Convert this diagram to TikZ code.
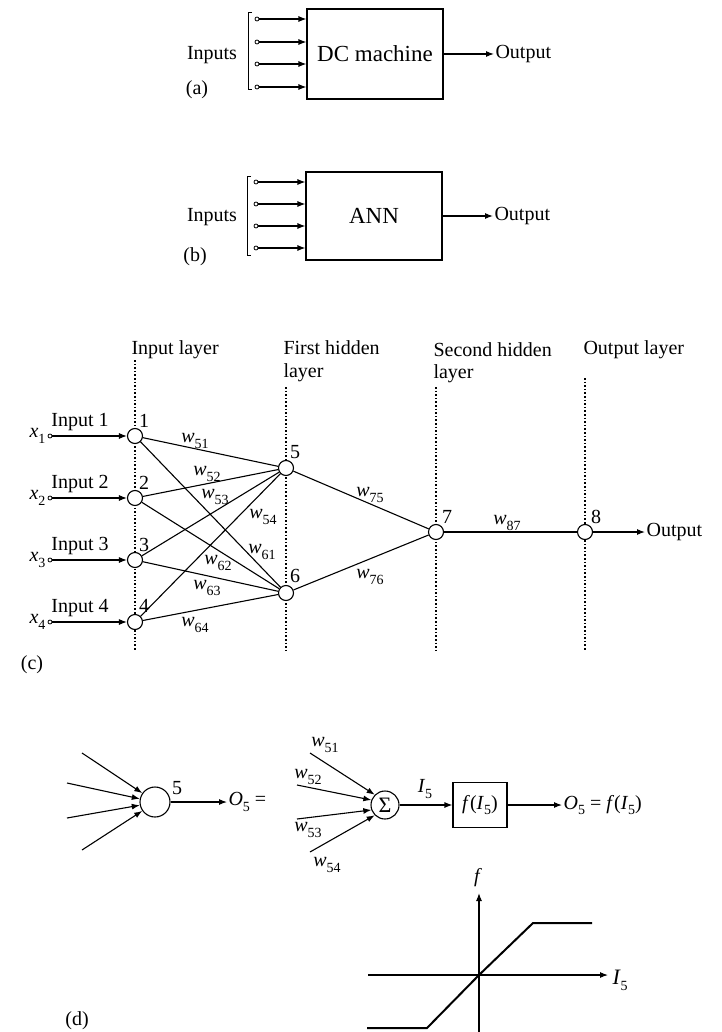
\documentclass[tikz,border=0pt]{standalone}
\usepackage{fontspec}
\setmainfont{Liberation Serif}
\usetikzlibrary{arrows.meta}
\newcommand{\sbs}[1]{\raisebox{-0.28em}{\fontsize{14}{14}\selectfont #1}}
\newcommand{\wgt}[1]{\textit{w}\sbs{#1}}
\begin{document}
\begin{tikzpicture}[x=1pt,y=-1pt,line width=1.1pt,
  every node/.style={font=\fontsize{20}{24}\selectfont,inner sep=1pt},
  arr/.style={-{Latex[length=8pt,width=6pt]}},
  neuron/.style={circle,draw,fill=white,minimum size=15pt,inner sep=0pt},
  term/.style={circle,draw,fill=white,minimum size=4pt,inner sep=0pt,line width=0.8pt},
  blk/.style={draw,rectangle,inner sep=0pt},
  bigtxt/.style={font=\fontsize{23}{26}\selectfont},
  layerline/.style={line width=1.6pt,dash pattern=on 1.6pt off 2pt},
  bracket/.style={line width=1pt}]
\useasboundingbox (0,0) rectangle (721,1032);

% ---------- (a)
\node[blk,bigtxt,minimum width=136pt,minimum height=90pt] (dc) at (375,54) {DC machine};
\draw[bracket] (252,13) -- (248,13) -- (248,90) -- (252,90);
\foreach \i/\y in {1/19,2/42,3/64,4/87}{
  \node[term] (a\i) at (257,\y) {};
  \draw[arr] (a\i) -- (a\i -| dc.west);
}
\node (ina) at (212,55) {Inputs};
\node (la) at (197,90) {(a)};
\node[anchor=west] (outa) at (494,54) {Output};
\draw[arr] (dc.east) -- (outa.west);

% ---------- (b)
\node[blk,bigtxt,minimum width=136pt,minimum height=88pt] (ann) at (374,216) {ANN};
\draw[bracket] (251,177) -- (247,177) -- (247,255) -- (251,255);
\foreach \i/\y in {1/182,2/204,3/226,4/248}{
  \node[term] (b\i) at (256,\y) {};
  \draw[arr] (b\i) -- (b\i -| ann.west);
}
\node (inb) at (212,217) {Inputs};
\node (lb) at (195,257) {(b)};
\node[anchor=west] (outb) at (493,216) {Output};
\draw[arr] (ann.east) -- (outb.west);

% ---------- (c)
\draw[layerline] (135,360) -- (135,650);
\draw[layerline] (286,387) -- (286,650);
\draw[layerline] (436,387) -- (436,650);
\draw[layerline] (585,378) -- (585,650);
\node[anchor=base west] (h1) at (130,354) {Input layer};
\node[anchor=base west] (h2a) at (282,354) {First hidden};
\node[anchor=base west] (h2b) at (282,377) {layer};
\node[anchor=base west] (h3a) at (432,356) {Second hidden};
\node[anchor=base west] (h3b) at (432,378) {layer};
\node[anchor=base west] (h4) at (582,354) {Output layer};

\node[neuron] (n5) at (286,468) {};
\node[neuron] (n6) at (286,593) {};
\node[neuron] (n7) at (436,532) {};
\node[neuron] (n8) at (585,532) {};
\node[neuron] (n1) at (135,436) {};
\node[neuron] (n2) at (135,498) {};
\node[neuron] (n3) at (135,560) {};
\node[neuron] (n4) at (135,622) {};
\node (l1) at (144,421) {1};
\node (l2) at (144,483) {2};
\node (l3) at (144,545) {3};
\node (l4) at (144,606) {4};
\node (l5) at (295,452) {5};
\node (l6) at (295,576) {6};
\node (l7) at (447,517) {7};
\node (l8) at (596,517) {8};

\foreach \i in {1,2,3,4}{
  \node[term] (x\i) at (50,{374+62*\i}) {};
  \node[anchor=east] (xl\i) at (47,{374+62*\i}) {\textit{x}\sbs{\i}};
  \node (il\i) at (80,{360+62*\i}) {Input \i};
  \draw[arr] (x\i) -- (n\i);
}
\foreach \i in {1,2,3,4}{
  \draw (n\i) -- (n5);
  \draw (n\i) -- (n6);
}
\draw (n5) -- (n7);
\draw (n6) -- (n7);
\draw (n7) -- (n8);
\node[anchor=west] (outc) at (645,532) {Output};
\draw[arr] (n8) -- (outc.west);

\node (w51) at (195,441) {\wgt{51}};
\node (w52) at (207,474) {\wgt{52}};
\node (w53) at (215,497) {\wgt{53}};
\node (w54) at (263,517) {\wgt{54}};
\node (w61) at (262,552) {\wgt{61}};
\node (w62) at (218,563) {\wgt{62}};
\node (w63) at (207,588) {\wgt{63}};
\node (w64) at (195,625) {\wgt{64}};
\node (w75) at (370,495) {\wgt{75}};
\node (w76) at (370,577) {\wgt{76}};
\node (w87) at (507,523) {\wgt{87}};
\node (lc) at (32,665) {(c)};

% ---------- (d)
\node[circle,draw,minimum size=30pt,inner sep=0pt] (nd) at (155,802) {};
\node (ld5) at (177,788) {5};
\coordinate (s1) at (82,753);
\coordinate (s2) at (67,783);
\coordinate (s3) at (67,818);
\coordinate (s4) at (82,850);
\draw[arr] (s1) -- (nd.145);
\draw[arr] (s2) -- (nd.168);
\draw[arr] (s3) -- (nd.192);
\draw[arr] (s4) -- (nd.215);
\node[anchor=west] (o5eq) at (227,802) {\textit{O}\sbs{5} =};
\draw[arr] (nd.east) -- (o5eq.west);

\node[circle,draw,minimum size=28pt,inner sep=0pt,font=\fontsize{22}{24}\selectfont] (sig) at (385,805) {Σ};
\coordinate (t1) at (310,753);
\coordinate (t2) at (297,785);
\coordinate (t3) at (297,819);
\coordinate (t4) at (310,852);
\draw[arr] (t1) -- (sig.135);
\draw[arr] (t2) -- (sig.160);
\draw[arr] (t3) -- (sig.200);
\draw[arr] (t4) -- (sig.225);
\node (dw51) at (325,745) {\wgt{51}};
\node (dw52) at (308,777) {\wgt{52}};
\node (dw53) at (308,830) {\wgt{53}};
\node (dw54) at (327,865) {\wgt{54}};

\node[blk,minimum width=54pt,minimum height=45pt] (fI) at (480,805) {\textit{f}(\textit{I}\sbs{5})};
\draw[arr] (sig.east) -- (fI.west);
\node (i5) at (425,789) {\textit{I}\sbs{5}};
\node[anchor=west] (o5f) at (562,805) {\textit{O}\sbs{5} = \textit{f}(\textit{I}\sbs{5})};
\draw[arr] (fI.east) -- (o5f.west);

% transfer function graph
\draw[arr] (479,1032) -- (479,893);
\draw[arr] (368,975) -- (608,975);
\node (fax) at (478,878) {\textit{f}};
\node[anchor=west,font=\fontsize{22}{24}\selectfont] (iax) at (611,980) {\textit{I}\sbs{5}};
\draw[line width=2pt] (367,1028) -- (427,1028) -- (479,975) -- (533,923) -- (592,923);
\node (ld) at (77,1021) {(d)};
\end{tikzpicture}
\end{document}
